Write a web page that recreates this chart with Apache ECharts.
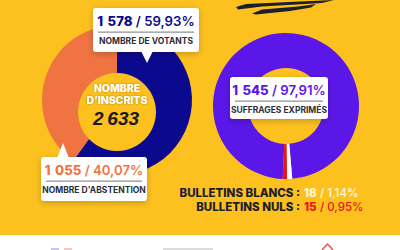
<!DOCTYPE html>
<html><head><meta charset="utf-8">
<script src="https://cdn.jsdelivr.net/npm/echarts@6/dist/echarts.min.js"></script>
<style>html,body{margin:0;padding:0;background:#fff}#c{width:400px;height:250px}</style>
</head><body><div id="c"></div>
<script>
const inscrits = 2633;
const votantsNames = ['Nombre de votants', "Nombre d'abstention"];
const votantsValues = [1578, 1055];
const suffrageNames = ['Suffrages exprimés', 'Bulletins blancs', 'Bulletins nuls'];
const suffrageValues = [1545, 18, 15];

const fmtN = (v, sp) => String(v).replace(/\B(?=(\d{3})+(?!\d))/g, sp || '\u2004');
const pct = (v, t) => (v / t * 100).toFixed(2).replace('.', ',') + '%';
const totalVotants = votantsValues[0];

const YELLOW = '#FDC11F', NAVY = '#0B0A8E', ORANGE = '#F07442', PURPLE = '#5B17E8', RED = '#E8141E';
const FONT = 'Inter';

function callout(x, y, w, h, color, value, total, label, pointer) {
  const cx = x + w / 2;
  const els = [
    { type: 'rect', shape: { x, y, width: w, height: h, r: 3 }, style: { fill: '#fff', shadowBlur: 6, shadowColor: 'rgba(0,0,0,0.22)', shadowOffsetY: 2 }, z: 20 },
    { type: 'rect', shape: { x: x + 5, y: y + 23.5, width: w - 10, height: 1.3 }, style: { fill: '#8d919b' }, z: 22 },
    { type: 'text', x: cx, y: y + 13, z: 22, style: { text: '{b|' + fmtN(value) + '} {n|/ ' + pct(value, total) + '}', align: 'center', verticalAlign: 'middle',
      rich: { b: { fontFamily: FONT, fontWeight: 800, fontSize: 13.2, fill: color }, n: { fontFamily: FONT, fontWeight: 600, fontSize: 13.2, fill: color } } } },
    { type: 'text', x: cx, y: y + 33, z: 22, style: { text: label.toUpperCase(), align: 'center', verticalAlign: 'middle', fontFamily: FONT, fontWeight: 700, fontSize: 8.5, fill: '#2b2d3a' } }
  ];
  if (pointer) els.push({ type: 'polygon', shape: { points: pointer }, style: { fill: '#fff' }, z: 21 });
  return els;
}

const chart = echarts.init(document.getElementById('c'), null, { renderer: 'svg' });
chart.setOption({
  backgroundColor: YELLOW,
  animation: false,
  series: [
    { type: 'pie', center: [117, 100], radius: [0, 75], startAngle: 90, clockwise: true, silent: true,
      label: { show: false }, labelLine: { show: false },
      data: votantsNames.map((n, i) => ({ name: n, value: votantsValues[i], itemStyle: { color: [NAVY, ORANGE][i] } })) },
    { type: 'pie', center: [286, 106], radius: [38, 73], startAngle: -92.6, clockwise: true, silent: true,
      label: { show: false }, labelLine: { show: false },
      data: suffrageNames.map((n, i) => ({ name: n, value: suffrageValues[i], itemStyle: { color: [PURPLE, '#ffffff', RED][i] } })) }
  ],
  graphic: [
    { type: 'rect', shape: { x: 0, y: 235, width: 400, height: 15 }, style: { fill: '#ffffff' }, z: 5 },
    { type: 'rect', shape: { x: 51, y: 248, width: 8, height: 2 }, style: { fill: '#c9c6ee' }, z: 6 },
    { type: 'rect', shape: { x: 64, y: 248, width: 8, height: 2 }, style: { fill: '#f3c5cc' }, z: 6 },
    { type: 'rect', shape: { x: 163, y: 248, width: 50, height: 2 }, style: { fill: '#dcdcdc' }, z: 6 },
    { type: 'polyline', shape: { points: [[322, 250], [327.5, 244], [333, 250]] }, style: { stroke: '#e0534f', lineWidth: 1.5, fill: 'none' }, z: 6 },
    { type: 'polygon', shape: { points: [[236, 7], [246, 4], [300, 1.5], [334, 0], [322, 3], [262, 6.5], [238, 9.5]] }, style: { fill: '#1c202b' }, z: 6 },
    { type: 'polygon', shape: { points: [[252, 13.5], [262, 9.5], [298, 6.5], [316, 4], [311, 7.5], [290, 11], [256, 14.5]] }, style: { fill: '#1c202b' }, z: 6 },
    { type: 'circle', shape: { cx: 117, cy: 112, r: 39 }, style: { fill: YELLOW }, z: 10 },
    { type: 'text', x: 117, y: 88, z: 11, style: { text: 'NOMBRE', align: 'center', verticalAlign: 'middle', fontFamily: FONT, fontWeight: 800, fontSize: 10.5, fill: '#fff', textShadowColor: 'rgba(0,0,0,0.35)', textShadowBlur: 2 } },
    { type: 'text', x: 117, y: 100, z: 11, style: { text: 'D\u2019INSCRITS', align: 'center', verticalAlign: 'middle', fontFamily: FONT, fontWeight: 800, fontSize: 10.5, fill: '#fff', textShadowColor: 'rgba(0,0,0,0.35)', textShadowBlur: 2 } },
    { type: 'text', x: 116, y: 118, z: 11, style: { text: fmtN(inscrits, '\u2009'), align: 'center', verticalAlign: 'middle', fontFamily: 'Liberation Sans', fontStyle: 'italic', fontWeight: 'bold', fontSize: 19, fill: '#1a1a1a' } },
    ...callout(93, 8, 106, 44, NAVY, votantsValues[0], inscrits, votantsNames[0], [[141, 51], [153, 51], [147, 63]]),
    ...callout(41, 157, 106, 44, ORANGE, votantsValues[1], inscrits, votantsNames[1], [[57, 158], [69, 158], [63, 143]]),
    ...callout(230, 77, 98, 42, PURPLE, suffrageValues[0], totalVotants, suffrageNames[0], null),
    { type: 'text', x: 300, y: 193, z: 12, style: { text: suffrageNames[1].toUpperCase() + ' :', align: 'right', verticalAlign: 'middle', fontFamily: FONT, fontWeight: 800, fontSize: 11.5, fill: '#1d1d2b' } },
    { type: 'text', x: 304, y: 193, z: 12, style: { text: '{b|' + suffrageValues[1] + '} {n|/ ' + pct(suffrageValues[1], totalVotants) + '}', align: 'left', verticalAlign: 'middle',
      rich: { b: { fontFamily: FONT, fontWeight: 800, fontSize: 11.5, fill: '#FFF6DE' }, n: { fontFamily: FONT, fontWeight: 500, fontSize: 11.5, fill: '#FFF6DE' } } } },
    { type: 'text', x: 300, y: 207, z: 12, style: { text: suffrageNames[2].toUpperCase() + ' :', align: 'right', verticalAlign: 'middle', fontFamily: FONT, fontWeight: 800, fontSize: 11.5, fill: '#1d1d2b' } },
    { type: 'text', x: 304, y: 207, z: 12, style: { text: '{b|' + suffrageValues[2] + '} {n|/ ' + pct(suffrageValues[2], totalVotants) + '}', align: 'left', verticalAlign: 'middle',
      rich: { b: { fontFamily: FONT, fontWeight: 800, fontSize: 11.5, fill: RED }, n: { fontFamily: FONT, fontWeight: 500, fontSize: 11.5, fill: RED } } } }
  ]
});
</script></body></html>
